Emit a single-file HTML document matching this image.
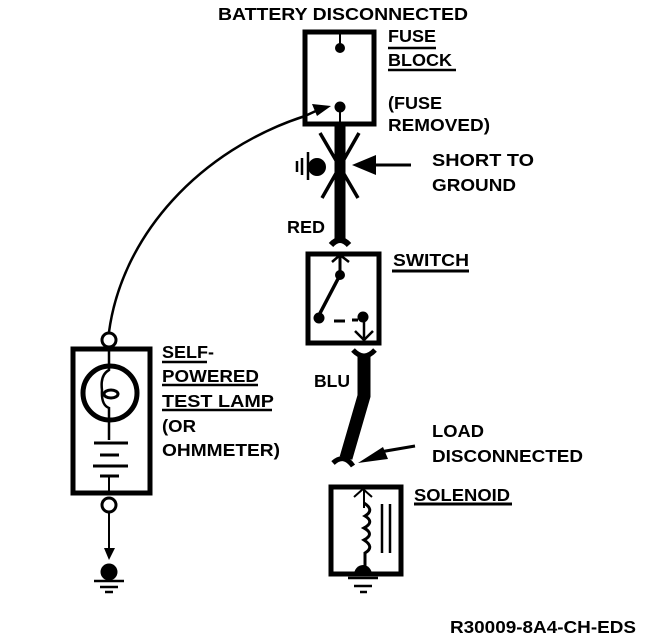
<!DOCTYPE html>
<html><head><meta charset="utf-8"><style>
html,body{margin:0;padding:0;background:#fff}
svg{display:block}
text{font-family:"Liberation Sans",sans-serif;font-size:17.5px;font-weight:bold;fill:#000;stroke:none}
</style></head><body>
<svg width="656" height="642" viewBox="0 0 656 642" fill="none" stroke="#000">
<text x="218" y="20" textLength="250" lengthAdjust="spacingAndGlyphs">BATTERY DISCONNECTED</text>
<rect x="305" y="32" width="69" height="92" stroke-width="5"/>
<path d="M340 34V48M340 108V124" stroke-width="2"/>
<circle cx="340" cy="48" r="5" fill="#000" stroke="none"/><circle cx="340" cy="107" r="5.5" fill="#000" stroke="none"/>
<path d="M109 332C122 235 200 150 305 116L318 110" stroke-width="2.5"/>
<path d="M331 106L312 104L317 116Z" fill="#000" stroke="none"/>
<text x="388" y="42" textLength="48" lengthAdjust="spacingAndGlyphs">FUSE</text><path d="M388 48H436" stroke-width="2.5"/>
<text x="388" y="66" textLength="64" lengthAdjust="spacingAndGlyphs">BLOCK</text><path d="M388 70H456" stroke-width="2.5"/>
<text x="388" y="109" textLength="54" lengthAdjust="spacingAndGlyphs">(FUSE</text>
<text x="388" y="131" textLength="102" lengthAdjust="spacingAndGlyphs">REMOVED)</text>
<path d="M340 124V240" stroke-width="11"/>
<path d="M320 133L358 198M359 133L322 198" stroke-width="3.5"/>
<circle cx="317" cy="167" r="9" fill="#000" stroke="none"/>
<path d="M308 152V180M302 158V175M297 161V172" stroke-width="2.5"/>
<path d="M352 165L376 155V175Z" fill="#000" stroke="none"/><path d="M370 165H411" stroke-width="3"/>
<text x="432" y="166" textLength="102" lengthAdjust="spacingAndGlyphs">SHORT TO</text>
<text x="432" y="191" textLength="84" lengthAdjust="spacingAndGlyphs">GROUND</text>
<text x="287" y="233" textLength="38" lengthAdjust="spacingAndGlyphs">RED</text>
<path d="M331 245Q340 235 349 245" stroke-width="6"/>
<rect x="308" y="254" width="71" height="89" stroke-width="5"/>
<text x="393" y="266" textLength="76" lengthAdjust="spacingAndGlyphs">SWITCH</text><path d="M392 271H469" stroke-width="3"/>
<path d="M340 256V275" stroke-width="3"/><path d="M332 262L340 255L349 262" stroke-width="2.5"/>
<circle cx="340" cy="275" r="5" fill="#000" stroke="none"/>
<path d="M340 275L318 317" stroke-width="3.5"/><circle cx="319" cy="318" r="5.5" fill="#000" stroke="none"/>
<path d="M334 321H345" stroke-width="3"/><path d="M352 320H358" stroke-width="3"/><circle cx="363" cy="317" r="5.5" fill="#000" stroke="none"/>
<path d="M364 317V338" stroke-width="2.5"/><path d="M355 331L364 340L373 331" stroke-width="2.5"/>
<path d="M353 350Q364 362 375 350" stroke-width="5"/>
<path d="M364 355V396L346 458" stroke-width="13"/>
<path d="M333 463Q344 453 353 466" stroke-width="5"/>
<text x="314" y="387" textLength="36" lengthAdjust="spacingAndGlyphs">BLU</text>
<path d="M358 463L383 447L388 459Z" fill="#000" stroke="none"/><path d="M380 452L415 446" stroke-width="3"/>
<text x="432" y="437" textLength="52" lengthAdjust="spacingAndGlyphs">LOAD</text>
<text x="432" y="462" textLength="151" lengthAdjust="spacingAndGlyphs">DISCONNECTED</text>
<rect x="331" y="487" width="70" height="87" stroke-width="5"/>
<text x="414" y="501" textLength="96" lengthAdjust="spacingAndGlyphs">SOLENOID</text><path d="M414 504H512" stroke-width="3"/>
<path d="M364 489V508" stroke-width="2"/><path d="M354 497L363 489L372 497" stroke-width="2"/>
<path d="M364 503Q375 510 365 516Q375 522 364 528Q375 534 364 540Q375 547 365 553V566" stroke-width="3"/>
<path d="M382 504V553M390 504V553" stroke-width="2.5"/>
<path d="M354 575A9 10 0 0 1 372 575Z" fill="#000" stroke="none"/>
<path d="M348 578H378M354 586H372M360 592H367" stroke-width="2.5"/>
<rect x="73" y="349" width="77" height="144" stroke-width="5"/>
<circle cx="109" cy="340" r="7" fill="#fff" stroke-width="3"/>
<circle cx="109" cy="505" r="7" fill="#fff" stroke-width="3"/>
<circle cx="110" cy="393" r="27" stroke-width="5"/>
<path d="M109 351V370Q100 375 102 390Q101 405 109 408V440" stroke-width="2.5"/>
<ellipse cx="111" cy="394" rx="7" ry="4" stroke-width="3"/>
<path d="M94 443H128" stroke-width="3"/><path d="M100 455H119" stroke-width="3"/><path d="M93 466H128" stroke-width="3"/><path d="M100 476H119" stroke-width="3"/>
<path d="M109 476V495M109 512V556" stroke-width="2"/>
<path d="M104 548H115L109 560Z" fill="#000" stroke="none"/>
<circle cx="109" cy="572" r="8.5" fill="#000" stroke="none"/>
<path d="M94 581H124M100 587H118M105 592H113" stroke-width="2.5"/>
<text x="162" y="358" textLength="52" lengthAdjust="spacingAndGlyphs">SELF-</text><path d="M162 362H207" stroke-width="2.5"/>
<text x="162" y="382" textLength="97" lengthAdjust="spacingAndGlyphs">POWERED</text><path d="M162 385H258" stroke-width="2.5"/>
<text x="162" y="407" textLength="112" lengthAdjust="spacingAndGlyphs">TEST LAMP</text><path d="M162 410H272" stroke-width="2.5"/>
<text x="162" y="432" textLength="34" lengthAdjust="spacingAndGlyphs">(OR</text>
<text x="162" y="456" textLength="118" lengthAdjust="spacingAndGlyphs">OHMMETER)</text>
<text x="450" y="633" textLength="186" lengthAdjust="spacingAndGlyphs">R30009-8A4-CH-EDS</text>
</svg>
</body></html>
